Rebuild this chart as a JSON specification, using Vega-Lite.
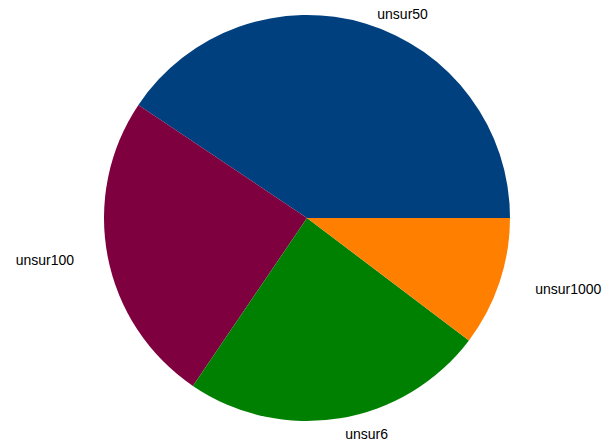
{
  "$schema": "https://vega.github.io/schema/vega-lite/v6.json",
  "autosize": "none",
  "padding": {"left": 0, "top": 0, "right": 0, "bottom": 12},
  "width": 614,
  "height": 436,
  "background": "white",
  "view": {"stroke": null},
  "data": {"values": [
    {"label": "unsur50", "value": 40.6, "ord": 1},
    {"label": "unsur100", "value": 24.9, "ord": 2},
    {"label": "unsur6", "value": 24.2, "ord": 3},
    {"label": "unsur1000", "value": 10.3, "ord": 4}
  ]},
  "transform": [
    {"stack": "value", "groupby": [], "sort": [{"field": "ord", "order": "ascending"}], "as": ["t0", "t1"]},
    {"calculate": "(datum.t0 + datum.t1) / 2", "as": "tm"}
  ],
  "layer": [
    {
      "mark": {"type": "arc", "radius": 203},
      "encoding": {
        "theta": {"field": "t0", "type": "quantitative", "stack": null, "scale": {"domain": [0, 100], "range": [1.5708, -4.7124]}},
        "theta2": {"field": "t1"},
        "color": {"field": "label", "type": "nominal", "legend": null,
          "scale": {"domain": ["unsur50", "unsur100", "unsur6", "unsur1000"], "range": ["#00407F", "#7F003F", "#008000", "#FF8000"]}}
      }
    },
    {
      "transform": [{"filter": "datum.label === 'unsur50'"}],
      "mark": {"type": "text", "font": "Liberation Sans", "fontSize": 14, "color": "#000000", "radius": 215, "dx": 33, "dy": 3},
      "encoding": {
        "theta": {"field": "tm", "type": "quantitative", "stack": null, "scale": {"domain": [0, 100], "range": [1.5708, -4.7124]}},
        "text": {"field": "label", "type": "nominal"}
      }
    },
    {
      "transform": [{"filter": "datum.label === 'unsur6'"}],
      "mark": {"type": "text", "font": "Liberation Sans", "fontSize": 14, "color": "#000000", "radius": 219, "dx": 24, "dy": 1},
      "encoding": {
        "theta": {"field": "tm", "type": "quantitative", "stack": null, "scale": {"domain": [0, 100], "range": [1.5708, -4.7124]}},
        "text": {"field": "label", "type": "nominal"}
      }
    },
    {
      "transform": [{"filter": "datum.label === 'unsur100'"}],
      "mark": {"type": "text", "font": "Liberation Sans", "fontSize": 14, "color": "#000000", "radius": 265, "dx": -2, "dy": -7},
      "encoding": {
        "theta": {"field": "tm", "type": "quantitative", "stack": null, "scale": {"domain": [0, 100], "range": [1.5708, -4.7124]}},
        "text": {"field": "label", "type": "nominal"}
      }
    },
    {
      "transform": [{"filter": "datum.label === 'unsur1000'"}],
      "mark": {"type": "text", "font": "Liberation Sans", "fontSize": 14, "color": "#000000", "radius": 265, "dx": 10, "dy": -12},
      "encoding": {
        "theta": {"field": "tm", "type": "quantitative", "stack": null, "scale": {"domain": [0, 100], "range": [1.5708, -4.7124]}},
        "text": {"field": "label", "type": "nominal"}
      }
    }
  ]
}
